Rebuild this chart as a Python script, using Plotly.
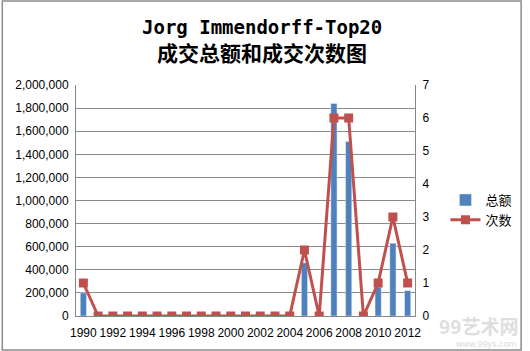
import plotly.graph_objects as go

years = [str(y) for y in range(1990, 2013)]
totals = [200000, 0, 0, 0, 0, 0, 0, 0, 0, 0, 0, 0, 0, 0, 0, 460000, 0, 1840000, 1510000, 0, 250000, 630000, 220000]
counts = [1, 0, 0, 0, 0, 0, 0, 0, 0, 0, 0, 0, 0, 0, 0, 2, 0, 6, 6, 0, 1, 3, 1]
tick_labels = [str(y) for y in range(1990, 2013, 2)]
left_ticks = list(range(0, 2000001, 200000))
right_ticks = list(range(0, 8))
title_line1 = "Jorg Immendorff-Top20"
title_line2 = "成交总额和成交次数图"

W, H = 530, 351
L, R, T, B = 76, 109, 85, 35
pw, ph = W - L - R, H - T - B

def px_x(x):
    return (x - L) / pw

def px_y(y):
    return (H - B - y) / ph

fig = go.Figure()
fig.add_trace(go.Bar(x=years, y=totals, name="总额", marker_color="#4F81BD",
                     width=0.42, yaxis="y"))
fig.add_trace(go.Scatter(x=years, y=counts, name="次数", mode="lines+markers",
                         line=dict(color="#C0504D", width=3),
                         marker=dict(symbol="square", size=9, color="#C0504D"),
                         yaxis="y2"))

font = "Liberation Sans, Open Sans, sans-serif"
fig.update_layout(
    width=W, height=H,
    margin=dict(l=L, r=R, t=T, b=B),
    paper_bgcolor="white", plot_bgcolor="white",
    showlegend=True,
    xaxis=dict(type="category", range=[-0.5, 22.5], tickmode="array",
               tickvals=tick_labels, ticktext=tick_labels, showgrid=False,
               showline=True, linecolor="#868686", ticks="", ticklabelstandoff=6,
               tickfont=dict(family=font, size=12, color="black"), fixedrange=True),
    yaxis=dict(range=[0, 2000000], tickmode="array", tickvals=left_ticks,
               tickformat=",", showgrid=True, gridcolor="#8A8A8A", gridwidth=1,
               showline=True, linecolor="#868686", zeroline=False, ticks="",
               ticklabelstandoff=4,
               tickfont=dict(family=font, size=12, color="black")),
    yaxis2=dict(range=[0, 7], tickmode="array", tickvals=right_ticks,
                overlaying="y", side="right", showgrid=False, showline=True,
                linecolor="#868686", zeroline=False, ticks="", ticklabelstandoff=4,
                tickfont=dict(family=font, size=12, color="black")),
    legend=dict(x=px_x(452), xanchor="left", y=px_y(210), yanchor="middle",
                font=dict(family="Noto Sans CJK SC", size=13, color="black"),
                bgcolor="rgba(0,0,0,0)", tracegroupgap=10),
    bargap=0.58,
)

fig.add_annotation(text=title_line1, xref="paper", yref="paper",
                   x=px_x(265), y=px_y(27), xanchor="center", yanchor="middle",
                   showarrow=False,
                   font=dict(family="DejaVu Sans Mono", size=19, color="black", weight=600))
fig.add_annotation(text=title_line2, xref="paper", yref="paper",
                   x=px_x(265), y=px_y(52), xanchor="center", yanchor="middle",
                   showarrow=False,
                   font=dict(family="Noto Sans CJK SC", size=21, color="black", weight=600))

fig.add_shape(type="rect", xref="paper", yref="paper",
              x0=px_x(1), x1=px_x(W - 1), y0=px_y(H - 1), y1=px_y(1),
              line=dict(color="#8C8C8C", width=1.5), layer="below")

fig.add_annotation(text="99艺术网", xref="paper", yref="paper",
                   x=px_x(528), y=px_y(325), xanchor="right", yanchor="middle",
                   showarrow=False, font=dict(family="Noto Sans CJK SC", size=19, color="rgba(200,200,200,0.6)", weight="bold"))
fig.add_annotation(text="www.99ys.com", xref="paper", yref="paper",
                   x=px_x(526), y=px_y(344), xanchor="right", yanchor="middle",
                   showarrow=False, font=dict(family=font, size=9, color="rgba(200,200,200,0.7)"))

fig.write_html("out.html")
